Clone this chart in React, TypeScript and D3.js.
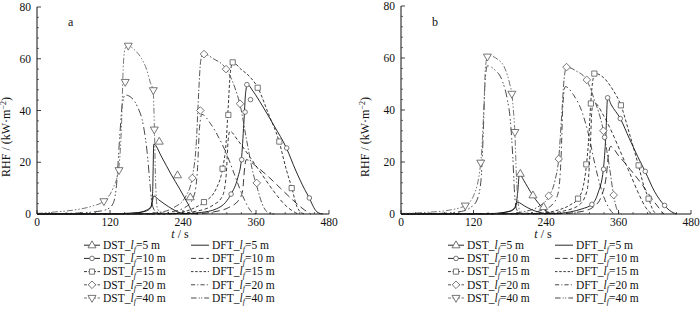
import React from "react";
import * as d3 from "d3";

type P = [number, number];

// ---------- tick labels ----------
const xTicks = [0, 120, 240, 360, 480];
const yTicks = [0, 20, 40, 60, 80];
const lfValues = [5, 10, 15, 20, 40];

// ---------- panel a ----------
const a_DST_5: P[] = [[0,0],[120,0.1],[160,0.4],[180,1.2],[187,2.5],[190,8],[192,27],[205,22],[220,15.5],[235,9.5],[248,4],[257,0.4],[265,0]];
const a_DST_5_marks: P[] = [[201,28],[231,15],[252,6.5]];
const a_DFT_5: P[] = [[0,0],[140,0.1],[165,0.5],[180,1.5],[188,3],[192,7],[200,5.5],[210,3.8],[222,2],[235,0.5],[250,0]];

const a_DST_10: P[] = [[0,0],[240,0.1],[270,0.6],[295,2],[310,4.5],[319,7.7],[330,14],[336,21],[340,35],[343,47],[346,50],[355,47.5],[370,42],[390,34],[410,25.5],[425,17],[440,9.5],[448,6],[455,2.5],[462,0.5],[470,0]];
const a_DST_10_marks: P[] = [[319,7.7],[336.5,21],[342,39.4],[345,50],[351,44.2],[410.5,25.5],[447.7,6.2]];
const a_DFT_10: P[] = [[0,0],[260,0.1],[290,0.8],[315,2.5],[332,5.5],[338,9],[341,17],[344,21],[360,18.5],[380,14.5],[400,10],[420,5.5],[440,1.5],[450,0]];

const a_DST_15: P[] = [[0,0],[210,0.1],[240,0.8],[260,2.5],[275,4.6],[295,10],[305,17.5],[311,28],[314,40],[318,55],[322,58.6],[335,56],[350,53],[363,48.8],[380,39],[398,28],[410,17],[419,10],[427,3],[435,0.5],[440,0]];
const a_DST_15_marks: P[] = [[274.5,4.6],[305,17.5],[314.5,38.3],[321.7,58.6],[362.8,48.8],[398.4,28],[418.7,10]];
const a_DFT_15: P[] = [[0,0],[220,0.1],[260,1],[290,3.5],[305,7],[311,15],[314,28],[317,32],[330,28.5],[350,22],[370,15.2],[390,8.5],[410,3],[425,0.5],[430,0]];

const a_DST_20: P[] = [[0,0],[170,0.1],[200,0.6],[225,2.5],[245,7],[255,14],[262,28],[266,48],[269,59],[273,62],[290,60],[311,56],[325,49],[334,42],[345,28],[355,16],[361,11],[370,4],[380,0.5],[390,0]];
const a_DST_20_marks: P[] = [[255.3,13.9],[268.5,40],[274.5,61.8],[310.7,56],[333.7,42.6],[361.2,12]];
const a_DFT_20: P[] = [[0,0],[190,0.1],[220,0.8],[245,2.8],[258,7],[264,18],[267,33],[271,38.5],[285,35],[300,29],[312,23],[325,15],[340,6],[352,1],[360,0]];

const a_DST_40: P[] = [[0,0.2],[30,0.8],[60,1.5],[90,3],[110,5],[125,10],[134,17],[139,35],[142,58],[145,64],[150,65],[160,63.5],[172,60],[180,56],[186,51],[191,47.5],[193,33],[195,12],[198,2],[205,0.3],[220,0]];
const a_DST_40_marks: P[] = [[110,4.9],[134.8,16.9],[145,51],[150,65],[191.2,47.8],[192.8,32.6]];
const a_DFT_40: P[] = [[0,0],[60,0.3],[100,1],[115,1.8],[125,4],[131,12],[136,30],[140,42],[145,46],[155,45],[165,41.5],[175,34],[181,24],[186,11],[189,4],[195,1],[210,0]];

// ---------- panel b ----------
const b_DST_5: P[] = [[0,0],[150,0.2],[180,1],[189,2.5],[193,8],[196,15.5],[203,13],[210,10.2],[218,7.2],[228,4],[238,1.5],[248,0.3],[255,0]];
const b_DST_5_marks: P[] = [[197.5,15.5],[218.4,7.2],[236,2.7]];
const b_DFT_5: P[] = [[0,0],[150,0.1],[175,0.8],[187,2],[193,4.5],[205,3],[215,1.8],[228,0.7],[240,0]];

const b_DST_10: P[] = [[0,0],[250,0.1],[280,0.8],[300,2],[316,3.7],[326,8],[335,17.2],[339,30],[342,44.7],[348,42],[363,36.7],[378,29],[392,22],[404,16.4],[420,8.5],[436,3.3],[448,0.8],[456,0]];
const b_DST_10_marks: P[] = [[316,3.7],[335.3,17.2],[337,29.5],[342,44.7],[363,36.7],[404.3,16.4],[436.3,3.3]];
const b_DFT_10: P[] = [[0,0],[260,0.1],[300,1],[320,3],[332,7],[340,15],[344,24],[347,26],[360,22.5],[380,17],[400,11],[415,6],[428,2],[435,0]];

const b_DST_15: P[] = [[0,0],[220,0.1],[255,1.2],[280,3.5],[293,5.9],[302,11],[307,19.1],[311,30],[314,42.5],[318,52],[322,54],[335,52.5],[350,48],[364,41.8],[378,31],[393,18.7],[403,10],[410,5.9],[416,2],[422,0]];
const b_DST_15_marks: P[] = [[293,5.9],[306.7,19.1],[314.3,42.5],[320,54],[364,41.8],[393.3,18.7],[409.8,5.9]];
const b_DFT_15: P[] = [[0,0],[230,0.1],[270,1.2],[295,3.5],[308,9],[313,24],[316,40],[319,43],[335,38],[350,31],[365,23],[380,15],[395,7],[405,2.5],[415,0]];

const b_DST_20: P[] = [[0,0],[180,0.2],[205,1],[225,2.5],[245,6.9],[255,13],[261,21.2],[266,38],[270,52],[274,56.5],[290,55],[307,51.6],[320,44],[335,32],[345,18],[352,7.2],[358,1.5],[365,0]];
const b_DST_20_marks: P[] = [[244.5,7],[261,21.2],[274,56.5],[307.5,51.6],[335,32],[352,7.3]];
const b_DFT_20: P[] = [[0,0],[200,0.2],[230,1.2],[250,3.5],[260,8],[265,22],[268,42],[272,49],[285,46],[300,39],[310,31],[322,18],[335,7],[345,2],[352,0]];

const b_DST_40: P[] = [[0,0.2],[40,0.6],[80,1.5],[106,3.2],[120,7],[132,19.7],[137,40],[140,57],[144,61],[160,59.5],[172,56],[180,50],[183.5,46.2],[186,40],[188.5,31.5],[191,15],[194,4],[198,0.5],[210,0]];
const b_DST_40_marks: P[] = [[106.4,3.2],[132,19.7],[143,60.5],[183.5,46.2],[188.5,31.5]];
const b_DFT_40: P[] = [[0,0],[60,0.2],[100,1],[115,2.5],[125,5],[132,12],[136,30],[139,50],[143,57],[155,55.5],[168,51],[176,44],[181,36],[185,22],[188,8],[191,2],[198,0]];

// ---------- styles ----------
const FONT = "'Liberation Serif', 'Times New Roman', serif";
const dstDash = ["", "", "3,2", "6,2,1.5,2", "6,2,1.5,2,1.5,2"];
const dftDash = ["", "7,4", "3.5,2.5", "6,3,1.5,3", "8,3,1.5,2,1.5,3"];
const dstColor = ["#111", "#111", "#222", "#444", "#666"];
const dftColor = ["#111", "#222", "#222", "#333", "#333"];
const markerKind = ["triUp", "circle", "square", "diamond", "triDown"];

function markerPath(kind: string): string {
  switch (kind) {
    case "triUp": return "M0,-4.3L4,2.6L-4,2.6Z";
    case "triDown": return "M0,4.3L4,-2.6L-4,-2.6Z";
    case "square": return "M-2.6,-2.6H2.6V2.6H-2.6Z";
    case "diamond": return "M0,-3.8L3.8,0L0,3.8L-3.8,0Z";
    default: return "";
  }
}

function Marker({ kind, x, y }: { kind: string; x: number; y: number }) {
  if (kind === "circle")
    return <circle cx={x} cy={y} r={2.3} fill="white" stroke="#555" strokeWidth={0.8} />;
  return <path d={markerPath(kind)} transform={`translate(${x},${y})`} fill="white" stroke="#555" strokeWidth={0.8} />;
}

type PanelData = { dst: P[][]; dstMarks: P[][]; dft: P[][] };

const panelA: PanelData = {
  dst: [a_DST_5, a_DST_10, a_DST_15, a_DST_20, a_DST_40],
  dstMarks: [a_DST_5_marks, a_DST_10_marks, a_DST_15_marks, a_DST_20_marks, a_DST_40_marks],
  dft: [a_DFT_5, a_DFT_10, a_DFT_15, a_DFT_20, a_DFT_40],
};
const panelB: PanelData = {
  dst: [b_DST_5, b_DST_10, b_DST_15, b_DST_20, b_DST_40],
  dstMarks: [b_DST_5_marks, b_DST_10_marks, b_DST_15_marks, b_DST_20_marks, b_DST_40_marks],
  dft: [b_DFT_5, b_DFT_10, b_DFT_15, b_DFT_20, b_DFT_40],
};

const LEG_FS = 11.5;

function LegendLabel({ x, y, prefix, lf }: { x: number; y: number; prefix: string; lf: number }) {
  return (
    <text x={x} y={y} fontSize={LEG_FS} fontFamily={FONT} fill="#111">
      {prefix}_<tspan fontStyle="italic">l</tspan>
      <tspan fontStyle="italic" fontSize={8} dy={2.5}>f</tspan>
      <tspan dy={-2.5}>{`=${lf} m`}</tspan>
    </text>
  );
}

function Panel({ data, x0, x1, yTop, yBot, label, ylabOff }: { data: PanelData; x0: number; x1: number; yTop: number; yBot: number; label: string; ylabOff: number }) {
  const x = d3.scaleLinear().domain([0, 480]).range([x0, x1]);
  const y = d3.scaleLinear().domain([0, 80]).range([yBot, yTop]);
  const line = d3.line<P>().x((d) => x(d[0])).y((d) => y(d[1])).curve(d3.curveMonotoneX);
  const minorX = d3.range(0, 481, 24).filter((v) => v % 120 !== 0);
  const minorY = d3.range(0, 81, 4).filter((v) => v % 20 !== 0);
  const cx = (x0 + x1) / 2;
  const legX = x0 + 47;
  const legX2 = x0 + 154;
  const legY0 = 249;
  const legDy = 13.2;
  return (
    <g>
      {data.dft.map((pts, i) => (
        <path key={"dft" + i} d={line(pts) || ""} fill="none" stroke={dftColor[i]} strokeWidth={0.9} strokeDasharray={dftDash[i]} />
      ))}
      {data.dst.map((pts, i) => (
        <path key={"dst" + i} d={line(pts) || ""} fill="none" stroke={dstColor[i]} strokeWidth={0.9} strokeDasharray={dstDash[i]} />
      ))}
      {data.dstMarks.map((pts, i) =>
        pts.map((p, j) => <Marker key={`m${i}-${j}`} kind={markerKind[i]} x={x(p[0])} y={y(p[1])} />)
      )}
      <line x1={x0} x2={x0} y1={yTop} y2={yBot} stroke="#111" strokeWidth={1} />
      <line x1={x0} x2={x1} y1={yBot} y2={yBot} stroke="#111" strokeWidth={1.2} />
      {yTicks.map((t) => (
        <g key={"yt" + t}>
          <line x1={x0} x2={x0 + 4} y1={y(t)} y2={y(t)} stroke="#111" strokeWidth={0.8} />
          <text x={x0 - 6} y={y(t) + 4} textAnchor="end" fontSize={11.5} fontFamily={FONT} fill="#111">{t}</text>
        </g>
      ))}
      {minorY.map((t) => (
        <line key={"my" + t} x1={x0} x2={x0 + 2} y1={y(t)} y2={y(t)} stroke="#111" strokeWidth={0.6} />
      ))}
      {xTicks.map((t) => (
        <g key={"xt" + t}>
          <line x1={x(t)} x2={x(t)} y1={yBot} y2={yBot - 4} stroke="#111" strokeWidth={0.8} />
          <text x={x(t)} y={yBot + 12} textAnchor="middle" fontSize={11.5} fontFamily={FONT} fill="#111">{t}</text>
        </g>
      ))}
      {minorX.map((t) => (
        <line key={"mx" + t} x1={x(t)} x2={x(t)} y1={yBot} y2={yBot - 2} stroke="#111" strokeWidth={0.6} />
      ))}
      <text x={x0 + 31} y={26} fontSize={12} fontFamily={FONT} fill="#111">{label}</text>
      <text transform={`translate(${x0 - ylabOff},${137}) rotate(-90)`} textAnchor="middle" fontSize={12} fontFamily={FONT} fill="#111">
        RHF / (kW·m<tspan fontSize={8} dy={-4.5}>−2</tspan><tspan dy={4.5}>)</tspan>
      </text>
      <text x={cx - 3} y={238} textAnchor="middle" fontSize={12} fontFamily={FONT} fill="#111">
        <tspan fontStyle="italic">t</tspan> / s
      </text>
      {lfValues.map((lf, i) => {
        const ly = legY0 + i * legDy;
        return (
          <g key={"leg" + lf}>
            <line x1={legX} x2={legX + 16} y1={ly - 3.8} y2={ly - 3.8} stroke={dstColor[i]} strokeWidth={0.9} strokeDasharray={dstDash[i] ? "3,1.5" : ""} />
            <Marker kind={markerKind[i]} x={legX + 8} y={ly - 3.8} />
            <LegendLabel x={legX + 19} y={ly} prefix="DST" lf={lf} />
            <line x1={legX2} x2={legX2 + 18} y1={ly - 3.8} y2={ly - 3.8} stroke={dftColor[i]} strokeWidth={0.9} strokeDasharray={dftDash[i] ? dftDash[i].split(",").map((v) => String(Math.max(1, Number(v) * 0.7))).join(",") : ""} />
            <LegendLabel x={legX2 + 21} y={ly} prefix="DFT" lf={lf} />
          </g>
        );
      })}
    </g>
  );
}

export default function App() {
  return (
    <svg width={700} height={314} style={{ position: "absolute", left: 0, top: 0, background: "white" }}>
      <rect width={700} height={314} fill="white" />
      <Panel data={panelA} x0={37} x1={329} yTop={7} yBot={214} label="a" ylabOff={27} />
      <Panel data={panelB} x0={401} x1={691} yTop={6} yBot={214} label="b" ylabOff={32} />
    </svg>
  );
}
